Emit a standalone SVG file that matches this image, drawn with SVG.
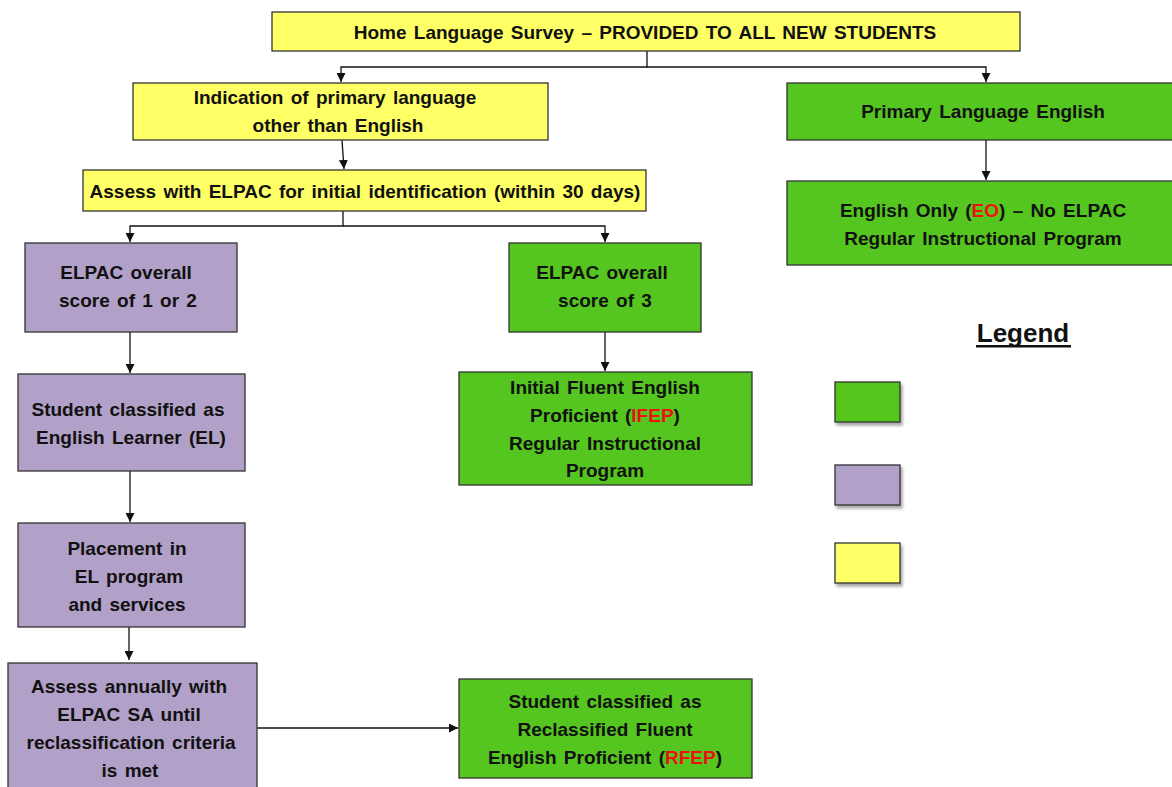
<svg xmlns="http://www.w3.org/2000/svg" width="1172" height="787" viewBox="0 0 1172 787">
<defs>
<style>
.n{stroke:#333;stroke-width:1.3}
.y{fill:#FFFF66}
.g{fill:#55C51F}
.p{fill:#B1A0C7}
text{font-family:"Liberation Sans",Arial,sans-serif;font-weight:bold;font-size:19px;word-spacing:2px;fill:#111;text-anchor:middle}
.r{fill:#F01010}
.c{stroke:#111;stroke-width:1.3;fill:none}
</style>
<marker id="a" viewBox="0 0 10 10" refX="10" refY="5" markerWidth="9" markerHeight="9" markerUnits="userSpaceOnUse" orient="auto">
<path d="M0,0L10,5L0,10z" fill="#111"/>
</marker>
<filter id="sh" x="-20%" y="-20%" width="150%" height="160%">
<feDropShadow dx="2" dy="3" stdDeviation="1.5" flood-color="#000" flood-opacity="0.35"/>
</filter>
</defs>
<g id="connectors">
<path class="c" d="M647,51V67H341V82" marker-end="url(#a)"/>
<path class="c" d="M647,67H986V82" marker-end="url(#a)"/>
<path class="c" d="M986,140V180" marker-end="url(#a)"/>
<path class="c" d="M342,140L344,169" marker-end="url(#a)"/>
<path class="c" d="M343,211V226H130V242" marker-end="url(#a)"/>
<path class="c" d="M343,226H605V242" marker-end="url(#a)"/>
<path class="c" d="M130,332V373" marker-end="url(#a)"/>
<path class="c" d="M605,332V371" marker-end="url(#a)"/>
<path class="c" d="M130,471V522" marker-end="url(#a)"/>
<path class="c" d="M129,621V660" marker-end="url(#a)"/>
<path class="c" d="M257,728H458" marker-end="url(#a)"/>
</g>
<g id="survey"><rect class="n y" x="272" y="12" width="748" height="39"/><text x="645" y="39">Home Language Survey – PROVIDED TO ALL NEW STUDENTS</text></g>
<g id="indication"><rect class="n y" x="133" y="83" width="415" height="57"/><text x="335" y="104">Indication of primary language</text><text x="338" y="132">other than English</text></g>
<g id="primary-english"><rect class="n g" x="787" y="83" width="390" height="57"/><text x="983" y="118">Primary Language English</text></g>
<g id="english-only"><rect class="n g" x="787" y="181" width="390" height="84"/><text x="983" y="217">English Only (<tspan class="r">EO</tspan>) – No ELPAC</text><text x="983" y="245">Regular Instructional Program</text></g>
<g id="assess-initial"><rect class="n y" x="83" y="170" width="563" height="41"/><text x="365" y="198">Assess with ELPAC for initial identification (within 30 days)</text></g>
<g id="score12"><rect class="n p" x="25" y="243" width="212" height="89"/><text x="126" y="279">ELPAC overall</text><text x="128" y="307">score of 1 or 2</text></g>
<g id="score3"><rect class="n g" x="509" y="243" width="192" height="89"/><text x="602" y="279">ELPAC overall</text><text x="605" y="307">score of 3</text></g>
<g id="el"><rect class="n p" x="18" y="374" width="227" height="97"/><text x="128" y="416">Student classified as</text><text x="131" y="444">English Learner (EL)</text></g>
<g id="ifep"><rect class="n g" x="459" y="372" width="293" height="113"/><text x="605" y="394">Initial Fluent English</text><text x="605" y="422">Proficient (<tspan class="r">IFEP</tspan>)</text><text x="605" y="450">Regular Instructional</text><text x="605" y="477">Program</text></g>
<g id="placement"><rect class="n p" x="18" y="523" width="227" height="104"/><text x="127" y="555">Placement in</text><text x="129" y="583">EL program</text><text x="127" y="611">and services</text></g>
<g id="annual"><rect class="n p" x="8" y="663" width="249" height="130"/><text x="129" y="693">Assess annually with</text><text x="129" y="721">ELPAC SA until</text><text x="131" y="749">reclassification criteria</text><text x="130" y="777">is met</text></g>
<g id="rfep"><rect class="n g" x="459" y="679" width="293" height="99"/><text x="605" y="708">Student classified as</text><text x="605" y="736">Reclassified Fluent</text><text x="605" y="764">English Proficient (<tspan class="r">RFEP</tspan>)</text></g>
<g id="legend">
<text x="1023" y="342" style="font-size:26px;word-spacing:0">Legend</text>
<rect x="976" y="345" width="95" height="2.5" fill="#111"/>
<rect class="n g" x="835" y="382" width="65" height="40" filter="url(#sh)"/>
<rect class="n p" x="835" y="465" width="65" height="40" filter="url(#sh)"/>
<rect class="n y" x="835" y="543" width="65" height="40" filter="url(#sh)"/>
</g>
</svg>
